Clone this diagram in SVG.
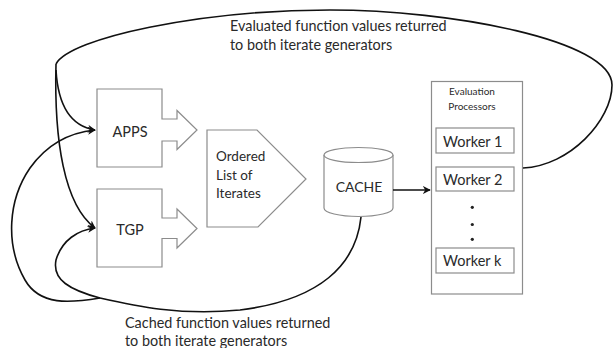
<svg xmlns="http://www.w3.org/2000/svg" width="614" height="348" viewBox="0 0 614 348">
<style>
.shape{fill:#fff;stroke:#8c8c8c;stroke-width:1.2}
.conn{fill:none;stroke:#111;stroke-width:1.6}
.lbl{font-family:Lato,"Liberation Sans",sans-serif;fill:#2a2a2a}
</style>
<defs>
<marker id="ah" viewBox="0 0 10 10" refX="9" refY="5" markerWidth="8" markerHeight="8" markerUnits="userSpaceOnUse" orient="auto">
<path d="M0,0 L10,5 L0,10 L3,5 Z" fill="#111"/>
</marker>
</defs>
<rect width="614" height="348" fill="#fff"/>
<g id="APPS">
<polygon class="shape" points="97,89 162,89 162,119 177,119 177,110.5 197,130 177,149.5 177,141 162,141 162,167 97,167"/>
<text class="lbl" x="130" y="137" font-size="14.5" text-anchor="middle">APPS</text>
</g>
<g id="TGP">
<polygon class="shape" points="97,189 162,189 162,218 177,218 177,209 197,228.5 177,248 177,238.5 162,238.5 162,267 97,267"/>
<text class="lbl" x="130" y="235" font-size="14.5" text-anchor="middle">TGP</text>
</g>
<g id="ordered_list">
<polygon class="shape" points="207,130 257,130 306,179 258,227 207,227"/>
<text class="lbl" font-size="13.5"><tspan x="216" y="161">Ordered</tspan><tspan x="216" y="180">List of</tspan><tspan x="216" y="198">Iterates</tspan></text>
</g>
<g id="cache">
<path class="shape" d="M324,155 L324,208 A34.5,8.5 0 0 0 393,208 L393,155"/>
<ellipse class="shape" cx="358.5" cy="155" rx="34.5" ry="7.5"/>
<text class="lbl" x="359" y="192" font-size="14" text-anchor="middle">CACHE</text>
</g>
<g id="eval_processors">
<rect class="shape" x="431.5" y="81.5" width="91" height="212.5"/>
<text class="lbl" font-size="10" text-anchor="middle"><tspan x="472" y="95">Evaluation</tspan><tspan x="472" y="110">Processors</tspan></text>
<rect class="shape" x="436" y="128" width="78" height="25"/>
<text class="lbl" x="443" y="147" font-size="14.5">Worker 1</text>
<rect class="shape" x="436" y="167" width="78" height="24"/>
<text class="lbl" x="443" y="185" font-size="14.5">Worker 2</text>
<circle cx="472.3" cy="207.3" r="1.6" fill="#222"/>
<circle cx="472.3" cy="224.5" r="1.6" fill="#222"/>
<circle cx="472.3" cy="239.3" r="1.6" fill="#222"/>
<rect class="shape" x="436" y="248" width="78" height="25"/>
<text class="lbl" x="443" y="266" font-size="14.5">Worker k</text>
</g>
<g id="connectors">
<path class="conn" d="M393,190 L430,190" marker-end="url(#ah)"/>
<path class="conn" d="M523,168 C570,166 612,120 612,85 C612,40 450,10 330,10 C200,10 70,38 56,64"/>
<path class="conn" d="M56,64 C54,140 64,205 95,228" marker-end="url(#ah)"/>
<path class="conn" d="M56,70 C58,105 70,126 95,130" marker-end="url(#ah)"/>
<path class="conn" d="M361,217 C356,265 320,300 240,310 C180,316 135,306 100,298"/>
<path class="conn" d="M100,298 C70,290 52,280 56,260 C62,240 78,230 95,228" marker-end="url(#ah)"/>
<path class="conn" d="M100,298 C70,303 40,306 25,280 C5,245 8,200 30,168 C50,140 75,132 95,130" marker-end="url(#ah)"/>
</g>
<g id="labels">
<text class="lbl" font-size="14.4"><tspan x="230" y="31">Evaluated function values returred</tspan><tspan x="230" y="50">to both iterate generators</tspan></text>
<text class="lbl" font-size="14.4"><tspan x="125" y="328">Cached function values returned</tspan><tspan x="125" y="346">to both iterate generators</tspan></text>
</g>
</svg>
